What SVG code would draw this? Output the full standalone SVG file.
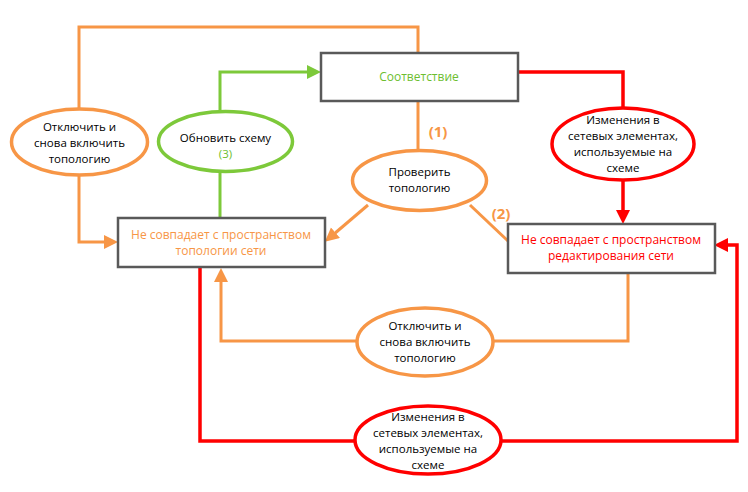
<svg xmlns="http://www.w3.org/2000/svg" width="748" height="492" viewBox="0 0 748 492">
<style>
text{font-family:"Open Sans","Noto Sans","Liberation Sans",sans-serif;font-size:11.5px;text-anchor:middle;fill:#000}
.box{fill:#fff;stroke:#595959;stroke-width:2.5}
.eo{fill:#fff;stroke:#F79646;stroke-width:3.5}
.eg{fill:#fff;stroke:#7DC93A;stroke-width:3.5}
.er{fill:#fff;stroke:#FF0000;stroke-width:3.5}
.lo{fill:none;stroke:#F79646;stroke-width:3}
.lg{fill:none;stroke:#7DC93A;stroke-width:3}
.lr{fill:none;stroke:#FF0000;stroke-width:3.5}
.to{fill:#F79646;font-size:12px}
.tg{fill:#6CBE2F}
.tr{fill:#FF0000;font-size:12px}
.num{font-weight:bold;fill:#F79646;font-size:15px}
</style>
<defs>
<marker id="ao" markerUnits="userSpaceOnUse" markerWidth="16" markerHeight="16" refX="2" refY="7" orient="auto"><path d="M0,0 L14,7 L0,14 z" fill="#F79646"/></marker>
<marker id="ag" markerUnits="userSpaceOnUse" markerWidth="16" markerHeight="16" refX="2" refY="7" orient="auto"><path d="M0,0 L14,7 L0,14 z" fill="#7DC93A"/></marker>
<marker id="ar" markerUnits="userSpaceOnUse" markerWidth="16" markerHeight="16" refX="2" refY="7" orient="auto"><path d="M0,0 L14,7 L0,14 z" fill="#FF0000"/></marker>
</defs>
<rect width="748" height="492" fill="#fff"/>
<g id="connectors">
<path class="lo" d="M79,109 V27 H418 V53"/>
<path class="lo" d="M79,175 V242 H106" marker-end="url(#ao)"/>
<path class="lg" d="M220,111 V72 H309" marker-end="url(#ag)"/>
<path class="lg" d="M220,172 V218"/>
<path class="lr" d="M518,72 H623 V108"/>
<path class="lr" d="M623,180 V212" marker-end="url(#ar)"/>
<path class="lo" d="M418,101 V151"/>
<path class="lo" d="M368,205 L334,234" marker-end="url(#ao)"/>
<path class="lo" d="M470,205 L508,241"/>
<path class="lo" d="M628,273 V341 H493"/>
<path class="lo" d="M357,341 H221 V280" marker-end="url(#ao)"/>
<path class="lr" d="M200,267 V441 H355"/>
<path class="lr" d="M501,441 H737 V245 H726" marker-end="url(#ar)"/>
<text class="num" x="438" y="137">(1)</text>
<text class="num" x="501" y="219">(2)</text>
</g>
<g id="match">
<rect class="box" x="321" y="53" width="197" height="48"/>
<text class="tg" x="419" y="81" style="font-size:12px">Соответствие</text>
</g>
<g id="topo-mismatch">
<rect class="box" x="118" y="218" width="207" height="49"/>
<text class="to" x="221" y="239">Не совпадает с пространством</text>
<text class="to" x="221" y="255">топологии сети</text>
</g>
<g id="edit-mismatch">
<rect class="box" x="508" y="224" width="207" height="49"/>
<text class="tr" x="611" y="244">Не совпадает с пространством</text>
<text class="tr" x="611" y="260">редактирования сети</text>
</g>
<g id="toggle-left">
<ellipse class="eo" cx="79.5" cy="142" rx="68" ry="33"/>
<text x="79.5" y="131">Отключить и</text>
<text x="79.5" y="147">снова включить</text>
<text x="79.5" y="163">топологию</text>
</g>
<g id="update-schema">
<ellipse class="eg" cx="225.5" cy="141.5" rx="67" ry="30"/>
<text x="225.5" y="142">Обновить схему</text>
<text class="tg" x="225.5" y="158">(3)</text>
</g>
<g id="validate">
<ellipse class="eo" cx="419.5" cy="180.5" rx="67" ry="30"/>
<text x="419.5" y="176">Проверить</text>
<text x="419.5" y="192">топологию</text>
</g>
<g id="changes-top">
<ellipse class="er" cx="623" cy="144" rx="71" ry="36"/>
<text x="623" y="124">Изменения в</text>
<text x="623" y="140">сетевых элементах,</text>
<text x="623" y="156">используемые на</text>
<text x="623" y="172">схеме</text>
</g>
<g id="toggle-bottom">
<ellipse class="eo" cx="425" cy="342" rx="68" ry="34"/>
<text x="425" y="330">Отключить и</text>
<text x="425" y="346">снова включить</text>
<text x="425" y="362">топологию</text>
</g>
<g id="changes-bottom">
<ellipse class="er" cx="428" cy="440" rx="73" ry="34"/>
<text x="428" y="421">Изменения в</text>
<text x="428" y="437">сетевых элементах,</text>
<text x="428" y="453">используемые на</text>
<text x="428" y="469">схеме</text>
</g>
</svg>
